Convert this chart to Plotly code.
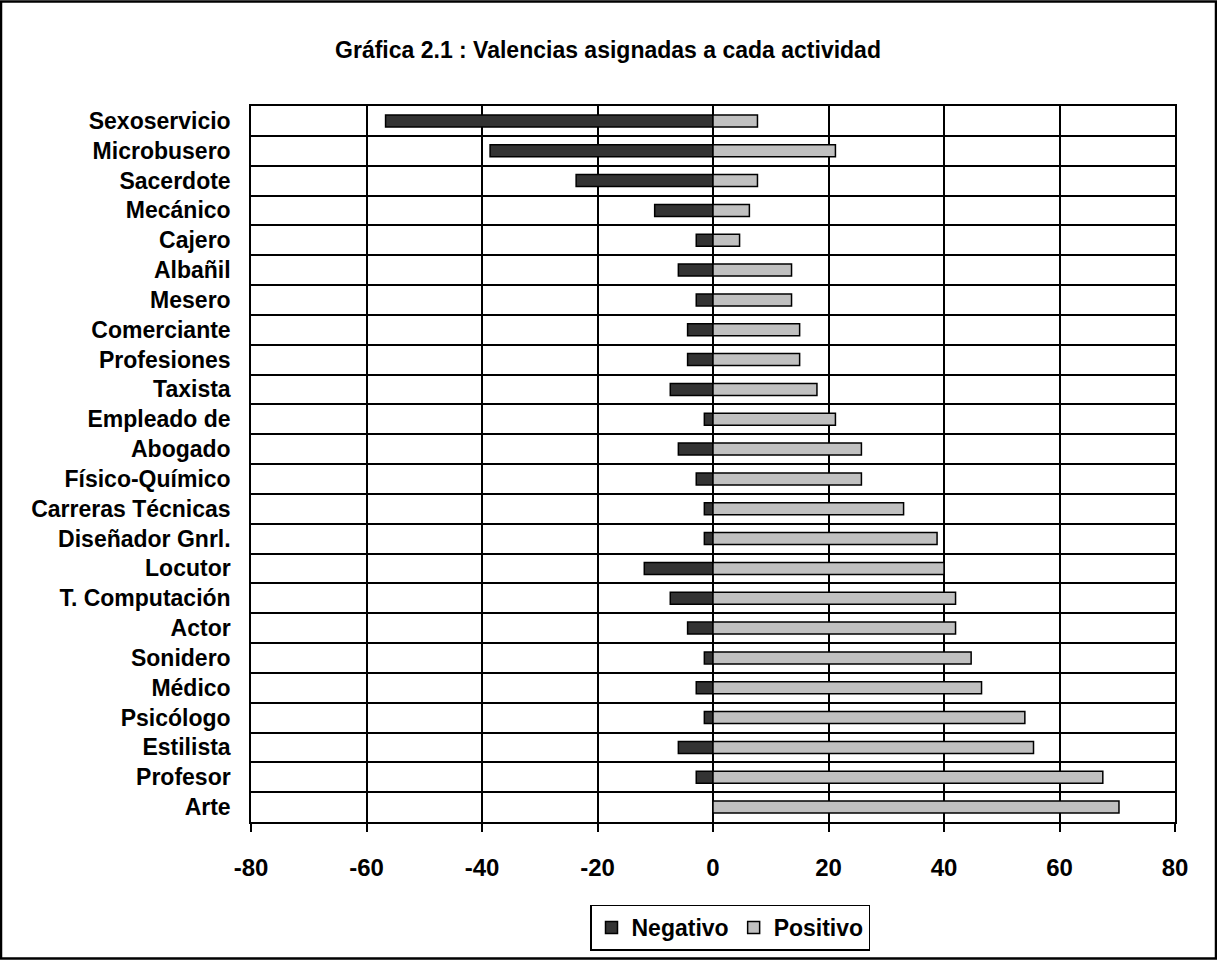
import plotly.graph_objects as go

categories = ["Sexoservicio", "Microbusero", "Sacerdote", "Mecánico", "Cajero", "Albañil",
              "Mesero", "Comerciante", "Profesiones", "Taxista", "Empleado de", "Abogado",
              "Físico-Químico", "Carreras Técnicas", "Diseñador Gnrl.", "Locutor",
              "T. Computación", "Actor", "Sonidero", "Médico", "Psicólogo", "Estilista",
              "Profesor", "Arte"]
negativo = [-56.7, -38.6, -23.7, -10.1, -2.9, -6.0, -2.9, -4.4, -4.4, -7.4, -1.5, -6.0,
            -2.9, -1.5, -1.5, -11.9, -7.4, -4.4, -1.5, -2.9, -1.5, -6.0, -2.9, 0]
positivo = [7.7, 21.2, 7.7, 6.3, 4.6, 13.6, 13.6, 15.0, 15.0, 18.0, 21.2, 25.7,
            25.7, 33.0, 38.8, 40.0, 42.0, 42.0, 44.7, 46.5, 54.0, 55.5, 67.5, 70.3]
x_ticks = [-80, -60, -40, -20, 0, 20, 40, 60, 80]

FONT = "Liberation Sans, Arial, sans-serif"

fig = go.Figure()
fig.add_trace(go.Bar(y=categories, x=negativo, orientation="h", name="<b>Negativo</b>",
                     marker=dict(color="#333333", line=dict(color="black", width=1.5)),
                     width=0.4))
fig.add_trace(go.Bar(y=categories, x=positivo, orientation="h", name="<b>Positivo</b>",
                     marker=dict(color="#c0c0c0", line=dict(color="black", width=1.5)),
                     width=0.4))

W, H = 1217, 963
L, R, T, B = 251, 42, 106, 138
pw, ph = W - L - R, H - T - B

fig.update_layout(
    width=W, height=H,
    barmode="relative",
    paper_bgcolor="white", plot_bgcolor="white",
    margin=dict(l=L, r=R, t=T, b=B, pad=0),
    title=dict(text="<b>Gráfica 2.1 : Valencias asignadas a cada actividad</b>",
               x=608 / W, xanchor="center", y=1 - 50 / H, yanchor="middle",
               font=dict(family=FONT, size=23, color="black")),
    font=dict(family=FONT, size=23, color="black"),
    showlegend=True,
    legend=dict(orientation="h", x=(730 - L) / pw, xanchor="center",
                y=-(931 - (T + ph)) / ph, yanchor="middle",
                bordercolor="black", borderwidth=1.5,
                font=dict(family=FONT, size=23, color="black"),
                traceorder="normal", itemwidth=30),
    xaxis=dict(range=[-80, 80], tickvals=x_ticks, ticktext=[f"<b>{v}</b>" for v in x_ticks],
               showgrid=True, gridcolor="black", gridwidth=1.5, zeroline=False,
               showline=True, linecolor="black", linewidth=1.5, mirror=True,
               ticks="outside", ticklen=8, tickwidth=1.5, tickcolor="black",
               ticklabelstandoff=15,
               tickfont=dict(family=FONT, size=24, color="black")),
    yaxis=dict(categoryorder="array", categoryarray=categories, autorange="reversed",
               tickvals=categories, ticktext=[f"<b>{c}</b>" for c in categories],
               tickson="boundaries", showgrid=True, gridcolor="black", gridwidth=1.5,
               showline=True, linecolor="black", linewidth=1.5, mirror=True,
               ticks="", ticklabelstandoff=14,
               tickfont=dict(family=FONT, size=23, color="black")),
)

fig.add_shape(type="rect", xref="paper", yref="paper",
              x0=-(L - 1) / pw, x1=(W - 1 - L) / pw,
              y0=-(B - 1) / ph, y1=1 + (T - 1) / ph,
              line=dict(color="black", width=2.5), fillcolor="rgba(0,0,0,0)", layer="above")

fig.write_html("out.html")
